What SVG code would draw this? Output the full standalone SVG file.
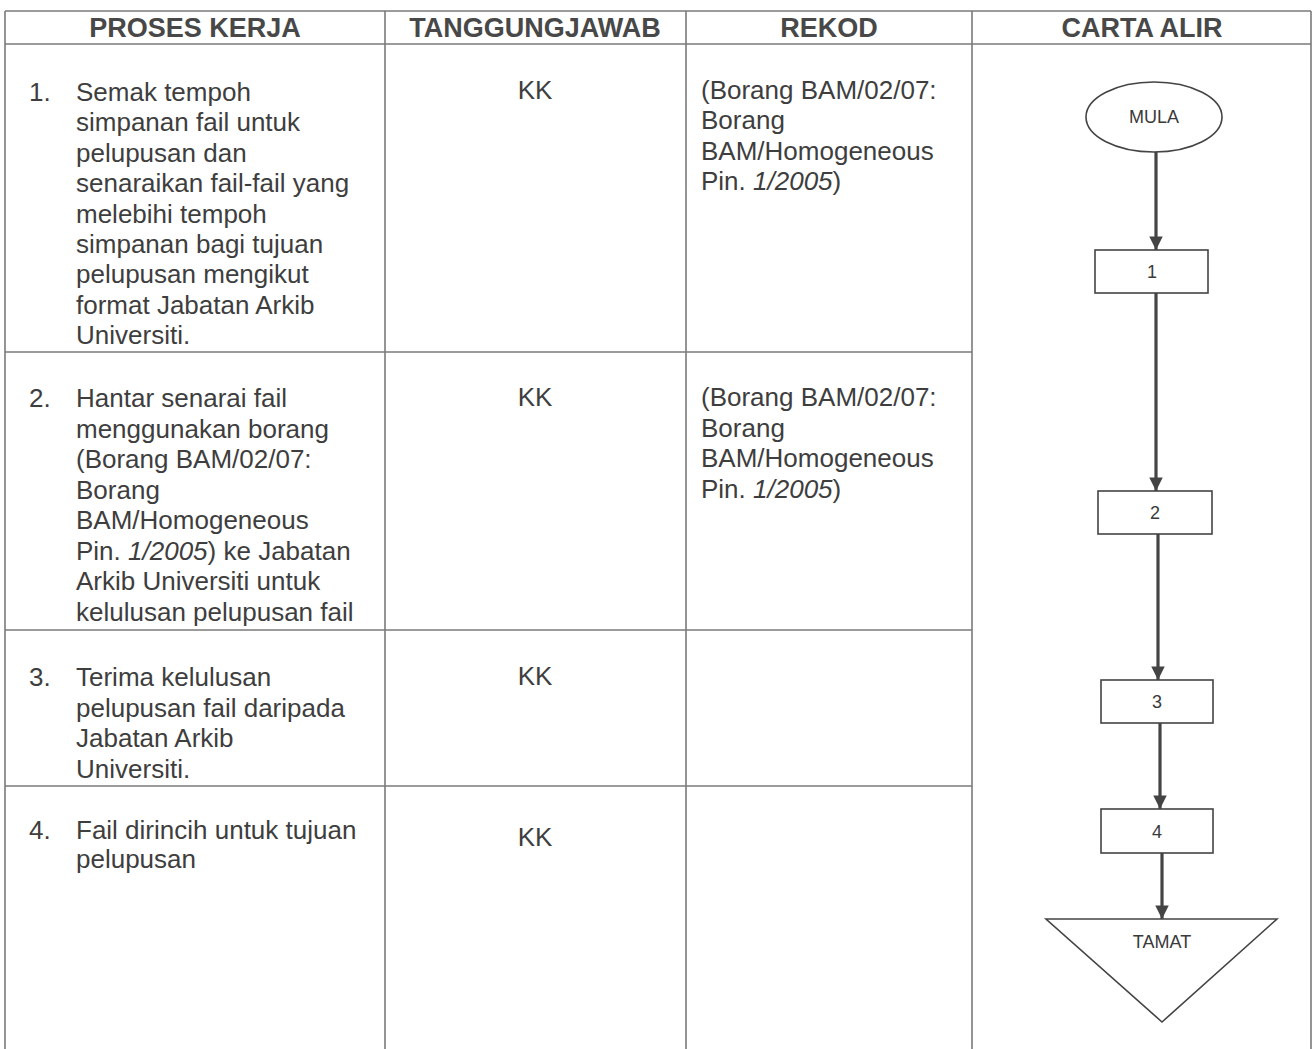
<svg xmlns="http://www.w3.org/2000/svg" width="1314" height="1049" viewBox="0 0 1314 1049">
<defs>
<style>
.grid{stroke:#7a7a7a;stroke-width:1.6;fill:none}
.hd{font-family:"Liberation Sans",Arial,sans-serif;font-size:27px;font-weight:bold;fill:#484848;text-anchor:middle}
.tx{font-family:"Liberation Sans",Arial,sans-serif;font-size:26px;fill:#3e3e3e}
.ct{text-anchor:middle}
.shape{fill:#fff;stroke:#444;stroke-width:1.6}
.lbl{font-family:"Liberation Sans",Arial,sans-serif;font-size:18px;fill:#3a3a3a;text-anchor:middle}
.conn{stroke:#444;stroke-width:3.2;fill:none}
</style>
<marker id="ah" viewBox="0 0 10 10" refX="10" refY="5" markerWidth="4.4" markerHeight="4.2" orient="auto" markerUnits="strokeWidth">
<path d="M0,0 L10,5 L0,10 Z" fill="#444"/>
</marker>
</defs>
<rect width="1314" height="1049" fill="#fff"/>
<g id="table">
<line class="grid" x1="5" y1="11" x2="1311" y2="11"/>
<line class="grid" x1="5" y1="44" x2="1311" y2="44"/>
<line class="grid" x1="5" y1="11" x2="5" y2="1049"/>
<line class="grid" x1="385" y1="11" x2="385" y2="1049"/>
<line class="grid" x1="686" y1="11" x2="686" y2="1049"/>
<line class="grid" x1="972" y1="11" x2="972" y2="1049"/>
<line class="grid" x1="1311" y1="11" x2="1311" y2="1049"/>
<line class="grid" x1="5" y1="352" x2="972" y2="352"/>
<line class="grid" x1="5" y1="630" x2="972" y2="630"/>
<line class="grid" x1="5" y1="786" x2="972" y2="786"/>
<text class="hd" x="195" y="37">PROSES KERJA</text>
<text class="hd" x="535" y="37">TANGGUNGJAWAB</text>
<text class="hd" x="829" y="37">REKOD</text>
<text class="hd" x="1142" y="37">CARTA ALIR</text>
</g>
<g id="row1">
<text class="tx" x="29" y="101">1.</text>
<text class="tx" x="76" y="101">Semak tempoh</text>
<text class="tx" x="76" y="131.4">simpanan fail untuk</text>
<text class="tx" x="76" y="161.8">pelupusan dan</text>
<text class="tx" x="76" y="192.2">senaraikan fail-fail yang</text>
<text class="tx" x="76" y="222.6">melebihi tempoh</text>
<text class="tx" x="76" y="253">simpanan bagi tujuan</text>
<text class="tx" x="76" y="283.4">pelupusan mengikut</text>
<text class="tx" x="76" y="313.8">format Jabatan Arkib</text>
<text class="tx" x="76" y="344.2">Universiti.</text>
<text class="tx ct" x="535" y="99">KK</text>
<text class="tx" x="701" y="99">(Borang BAM/02/07:</text>
<text class="tx" x="701" y="129.4">Borang</text>
<text class="tx" x="701" y="159.8">BAM/Homogeneous</text>
<text class="tx" x="701" y="190.2">Pin. <tspan font-style="italic">1/2005</tspan>)</text>
</g>
<g id="row2">
<text class="tx" x="29" y="407">2.</text>
<text class="tx" x="76" y="407">Hantar senarai fail</text>
<text class="tx" x="76" y="437.5">menggunakan borang</text>
<text class="tx" x="76" y="468">(Borang BAM/02/07:</text>
<text class="tx" x="76" y="498.5">Borang</text>
<text class="tx" x="76" y="529">BAM/Homogeneous</text>
<text class="tx" x="76" y="559.5">Pin. <tspan font-style="italic">1/2005</tspan>) ke Jabatan</text>
<text class="tx" x="76" y="590">Arkib Universiti untuk</text>
<text class="tx" x="76" y="620.5">kelulusan pelupusan fail</text>
<text class="tx ct" x="535" y="406">KK</text>
<text class="tx" x="701" y="406">(Borang BAM/02/07:</text>
<text class="tx" x="701" y="436.5">Borang</text>
<text class="tx" x="701" y="467">BAM/Homogeneous</text>
<text class="tx" x="701" y="497.5">Pin. <tspan font-style="italic">1/2005</tspan>)</text>
</g>
<g id="row3">
<text class="tx" x="29" y="686">3.</text>
<text class="tx" x="76" y="686">Terima kelulusan</text>
<text class="tx" x="76" y="716.5">pelupusan fail daripada</text>
<text class="tx" x="76" y="747">Jabatan Arkib</text>
<text class="tx" x="76" y="777.5">Universiti.</text>
<text class="tx ct" x="535" y="685">KK</text>
</g>
<g id="row4">
<text class="tx" x="29" y="839">4.</text>
<text class="tx" x="76" y="839">Fail dirincih untuk tujuan</text>
<text class="tx" x="76" y="868">pelupusan</text>
<text class="tx ct" x="535" y="846">KK</text>
</g>
<g id="connectors">
<line class="conn" x1="1156" y1="152" x2="1156" y2="250" marker-end="url(#ah)"/>
<line class="conn" x1="1156" y1="293" x2="1156" y2="491" marker-end="url(#ah)"/>
<line class="conn" x1="1158" y1="534" x2="1158" y2="680" marker-end="url(#ah)"/>
<line class="conn" x1="1160" y1="723" x2="1160" y2="809" marker-end="url(#ah)"/>
<line class="conn" x1="1162" y1="853" x2="1162" y2="919" marker-end="url(#ah)"/>
</g>
<g id="mula">
<ellipse class="shape" cx="1154" cy="117" rx="68" ry="35"/>
<text class="lbl" x="1154" y="123">MULA</text>
</g>
<g id="step1">
<rect class="shape" x="1095" y="250" width="113" height="43"/>
<text class="lbl" x="1152" y="278">1</text>
</g>
<g id="step2">
<rect class="shape" x="1098" y="491" width="114" height="43"/>
<text class="lbl" x="1155" y="519">2</text>
</g>
<g id="step3">
<rect class="shape" x="1101" y="680" width="112" height="43"/>
<text class="lbl" x="1157" y="708">3</text>
</g>
<g id="step4">
<rect class="shape" x="1101" y="809" width="112" height="44"/>
<text class="lbl" x="1157" y="838">4</text>
</g>
<g id="tamat">
<polygon class="shape" points="1046,919 1277,919 1162,1022"/>
<text class="lbl" x="1162" y="948">TAMAT</text>
</g>
</svg>
